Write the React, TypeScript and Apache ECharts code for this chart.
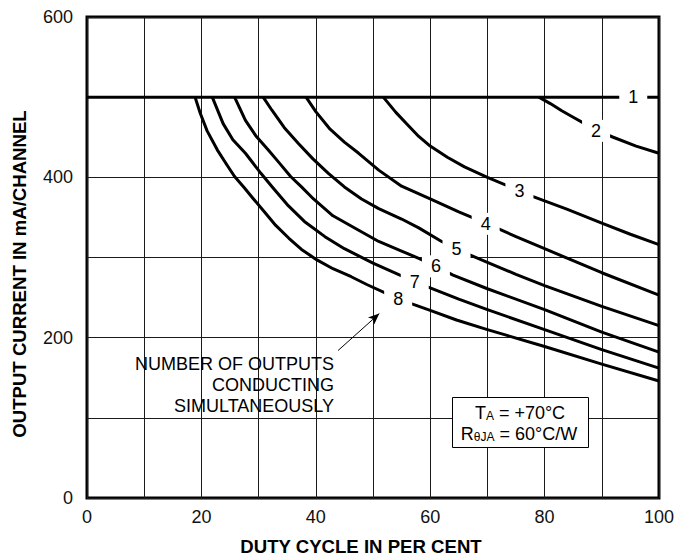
import React, { useEffect, useRef } from "react";
import * as echarts from "echarts";

// ---- data (duty cycle %, output current mA/channel) ----
const curve1X = [0, 100];
const curve1Y = [500, 500];
const curve2X = [79, 81, 83, 85, 87, 89, 92, 96, 100];
const curve2Y = [500, 492, 483, 475, 467, 459, 450, 439, 430];
const curve3X = [51.8, 54, 56, 58, 60, 63, 66, 70, 74, 78, 84, 90, 95, 100];
const curve3Y = [500, 481, 466, 451, 439, 425, 413, 400, 388, 376, 360, 343, 329, 316];
const curve4X = [38.3, 40, 42.5, 45, 47.5, 51, 55, 60, 65, 70, 75, 80, 90, 100];
const curve4Y = [500, 482, 460, 444, 430, 409, 389, 373, 357, 342, 326, 311, 281, 253];
const curve5X = [30.8, 32.3, 34.5, 37, 39.5, 42.2, 45, 48, 51, 55, 58, 62, 66, 70, 75, 80, 90, 100];
const curve5Y = [500, 484, 462, 442, 423, 405, 388, 373, 361, 348, 337, 320, 306, 294, 279, 265, 239, 215];
const curve6X = [25.8, 27.7, 29.5, 31.7, 33.5, 35.6, 37.5, 39.6, 43, 47.5, 51, 55, 58, 61, 64, 70, 80, 90, 100];
const curve6Y = [500, 471, 452, 434, 419, 401, 388, 373, 352, 334, 320, 308, 299, 289, 278, 261, 235, 207, 182];
const curve7X = [21.9, 23.8, 25.5, 27.7, 30.4, 32.5, 35, 38, 41.6, 45, 50, 55, 57.3, 60, 65, 70, 80, 90, 100];
const curve7Y = [500, 467, 447, 430, 405, 387, 366, 345, 326, 311, 293, 277, 269, 262, 248, 235, 210, 185, 162];
const curve8X = [18.9, 19.8, 21, 22.8, 24.5, 25.8, 27.5, 29, 31, 33, 35.3, 37.5, 40.2, 43, 46.2, 49, 52.4, 54.4, 57.3, 60, 64.6, 70, 80, 90, 100];
const curve8Y = [500, 480, 458, 434, 415, 401, 387, 374, 357, 340, 324, 310, 297, 286, 276, 266, 255, 248, 241, 234, 222, 210, 189, 167, 146];

const curveNames = ["1", "2", "3", "4", "5", "6", "7", "8"];
const labelX = [95.5, 89, 75.6, 69.7, 64.6, 61, 57.3, 54.4];
const labelY = [500, 458, 383, 342, 311, 289, 269, 248];

const arrowFrom = [43.9, 184];
const arrowTo = [51.1, 230];

const xLabelStep = 20;
const yLabelStep = 200;

const xTitle = "DUTY CYCLE IN PER CENT";
const yTitle = "OUTPUT CURRENT IN mA/CHANNEL";
const noteLines = ["NUMBER OF OUTPUTS", "CONDUCTING", "SIMULTANEOUSLY"];

const FONT = '"Liberation Sans", Arial, Helvetica, sans-serif';

const curvesX = [curve1X, curve2X, curve3X, curve4X, curve5X, curve6X, curve7X, curve8X];
const curvesY = [curve1Y, curve2Y, curve3Y, curve4Y, curve5Y, curve6Y, curve7Y, curve8Y];

export default function App() {
  const ref = useRef<HTMLDivElement>(null);

  useEffect(() => {
    document.body.style.margin = "0";
    if (!ref.current) return;
    const chart = echarts.init(ref.current, null, { renderer: "svg" });

    const lineSeries: any[] = curvesX.map((xs, i) => ({
      name: "Curve " + curveNames[i],
      type: "line",
      data: xs.map((x, j) => [x, curvesY[i][j]]),
      showSymbol: false,
      symbol: "none",
      smooth: false,
      lineStyle: { color: "#000", width: 3, join: "round" },
      z: 3,
      silent: true,
    }));

    lineSeries[7].markLine = {
      silent: true,
      symbol: ["none", "arrow"],
      symbolSize: [7, 11],
      lineStyle: { color: "#000", width: 1, type: "solid" },
      label: { show: false },
      data: [[{ coord: arrowFrom }, { coord: arrowTo }]],
    };

    const labelSeries = {
      type: "scatter",
      symbol: "rect",
      symbolSize: [28, 22],
      itemStyle: { color: "#ffffff", opacity: 1 },
      z: 6,
      silent: true,
      data: curveNames.map((n, i) => [labelX[i], labelY[i], n]),
      label: {
        show: true,
        position: "inside",
        formatter: (p: any) => p.data[2],
        fontSize: 18,
        fontFamily: FONT,
        color: "#000",
      },
    };

    chart.setOption({
      animation: false,
      backgroundColor: "#fff",
      grid: {
        left: 87,
        right: 11,
        top: 17,
        bottom: 58,
        show: true,
        borderColor: "#000",
        borderWidth: 3,
      },
      xAxis: {
        type: "value",
        min: 0,
        max: 100,
        interval: 10,
        axisLine: { show: false },
        axisTick: { show: false },
        splitLine: { show: true, lineStyle: { color: "#1a1a1a", width: 1 } },
        axisLabel: {
          fontSize: 18,
          fontFamily: FONT,
          color: "#111",
          margin: 10,
          formatter: (v: number) => (v % xLabelStep === 0 ? String(v) : ""),
        },
      },
      yAxis: {
        type: "value",
        min: 0,
        max: 600,
        interval: 100,
        axisLine: { show: false },
        axisTick: { show: false },
        splitLine: { show: true, lineStyle: { color: "#1a1a1a", width: 1 } },
        axisLabel: {
          fontSize: 18,
          fontFamily: FONT,
          color: "#111",
          margin: 14,
          formatter: (v: number) => (v % yLabelStep === 0 ? String(v) : ""),
        },
      },
      series: [...lineSeries, labelSeries],
      graphic: [
        {
          type: "text",
          x: 361,
          y: 546.5,
          z: 10,
          style: {
            text: xTitle,
            font: `bold 18.6px ${FONT}`,
            fill: "#000",
            align: "center",
            verticalAlign: "middle",
          },
        },
        {
          type: "text",
          x: 19.5,
          y: 274,
          rotation: Math.PI / 2,
          z: 10,
          style: {
            text: yTitle,
            font: `bold 18.6px ${FONT}`,
            fill: "#000",
            align: "center",
            verticalAlign: "middle",
          },
        },
        ...noteLines.map((t, i) => ({
          type: "text",
          x: 334,
          y: 363.5 + i * 21,
          z: 10,
          style: {
            text: t,
            font: `18px ${FONT}`,
            fill: "#000",
            align: "right",
            verticalAlign: "middle",
          },
        })),
        {
          type: "rect",
          z: 10,
          shape: { x: 452.5, y: 397.5, width: 136, height: 50 },
          style: { fill: "#fff", stroke: "#000", lineWidth: 1 },
        },
        {
          type: "text",
          x: 520,
          y: 413,
          z: 11,
          style: {
            text: "{n|T}{s|A}{n| = +70°C}",
            align: "center",
            verticalAlign: "middle",
            rich: {
              n: { fontSize: 18, fontFamily: FONT, fill: "#000", verticalAlign: "bottom", lineHeight: 18 },
              s: { fontSize: 12, fontFamily: FONT, fill: "#000", verticalAlign: "bottom", lineHeight: 13 },
            },
          },
        },
        {
          type: "text",
          x: 519,
          y: 433.5,
          z: 11,
          style: {
            text: "{n|R}{s|θJA}{n| = 60°C/W}",
            align: "center",
            verticalAlign: "middle",
            rich: {
              n: { fontSize: 18, fontFamily: FONT, fill: "#000", verticalAlign: "bottom", lineHeight: 18 },
              s: { fontSize: 12, fontFamily: FONT, fill: "#000", verticalAlign: "bottom", lineHeight: 13 },
            },
          },
        },
      ],
    });

    return () => chart.dispose();
  }, []);

  return <div ref={ref} style={{ width: 677, height: 556 }} />;
}
